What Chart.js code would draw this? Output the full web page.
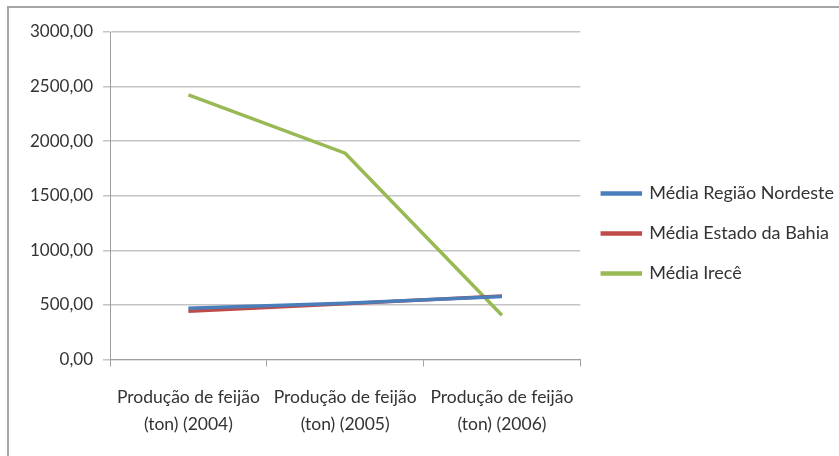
<!DOCTYPE html>
<html>
<head>
<meta charset="utf-8">
<script src="https://cdn.jsdelivr.net/npm/chart.js@4/dist/chart.umd.min.js"></script>
<style>
  html, body { margin: 0; padding: 0; background: #fff; }
  #wrap { position: relative; width: 839px; height: 456px; }
</style>
</head>
<body>
<div id="wrap"><canvas id="c" width="839" height="456"></canvas></div>
<script>
// Categories and series (feijão production averages, tonnes)
const categories = [
  ['Produção de feijão', '(ton) (2004)'],
  ['Produção de feijão', '(ton) (2005)'],
  ['Produção de feijão', '(ton) (2006)']
];
const seriesNames = ['Média Região Nordeste', 'Média Estado da Bahia', 'Média Irecê'];
const mediaNordeste = [470, 515, 576];
const mediaBahia = [442, 510, 582];
const mediaIrece = [2425, 1890, 405];
const yTicks = { min: 0, max: 3000, step: 500 };

const FONT = "Lato, 'Open Sans', sans-serif";
const TEXT = '#333333';

// outer frame of the chart object
const framePlugin = {
  id: 'frame',
  beforeDraw(chart) {
    const ctx = chart.ctx;
    ctx.save();
    ctx.strokeStyle = '#a6a6a6';
    ctx.lineWidth = 2;
    ctx.strokeRect(8, 7, chart.width + 20, chart.height + 20);
    ctx.restore();
  }
};

new Chart(document.getElementById('c'), {
  type: 'line',
  data: {
    labels: categories,
    datasets: [
      { label: seriesNames[0], data: mediaNordeste, borderColor: '#4a7ebb', backgroundColor: '#4a7ebb' },
      { label: seriesNames[1], data: mediaBahia, borderColor: '#be4b48', backgroundColor: '#be4b48' },
      { label: seriesNames[2], data: mediaIrece, borderColor: '#98b954', backgroundColor: '#98b954' }
    ].map(d => Object.assign(d, { borderWidth: 3.5, pointRadius: 0, tension: 0, fill: false }))
  },
  options: {
    responsive: false,
    animation: false,
    layout: { padding: { top: 12, left: 20, right: -5, bottom: 1 } },
    plugins: {
      // empty title only reserves the space above the plot
      title: { display: true, text: '', padding: 0, font: { size: 10, lineHeight: 2 } },
      legend: {
        position: 'right',
        maxWidth: 400,
        labels: {
          boxWidth: 38,
          boxHeight: 1,
          padding: 22,
          color: TEXT,
          font: { family: FONT, size: 18 }
        }
      },
      tooltip: { enabled: false }
    },
    scales: {
      x: {
        offset: true,
        border: { color: '#a0a0a0', width: 1 },
        grid: { offset: true, drawOnChartArea: false, drawTicks: true, tickLength: 7, color: '#a0a0a0' },
        ticks: { color: TEXT, padding: 18, maxRotation: 0, autoSkip: false, font: { family: FONT, size: 17.5, lineHeight: 1.5 } }
      },
      y: {
        min: yTicks.min,
        max: yTicks.max,
        border: { color: '#a0a0a0', width: 1 },
        grid: { color: '#c4c4c4', tickLength: 7, lineWidth: 1.5 },
        ticks: {
          stepSize: yTicks.step,
          color: TEXT,
          padding: 10,
          font: { family: FONT, size: 17 },
          callback: v => v.toFixed(2).replace('.', ',')
        }
      }
    }
  },
  plugins: [framePlugin]
});
</script>
</body>
</html>
